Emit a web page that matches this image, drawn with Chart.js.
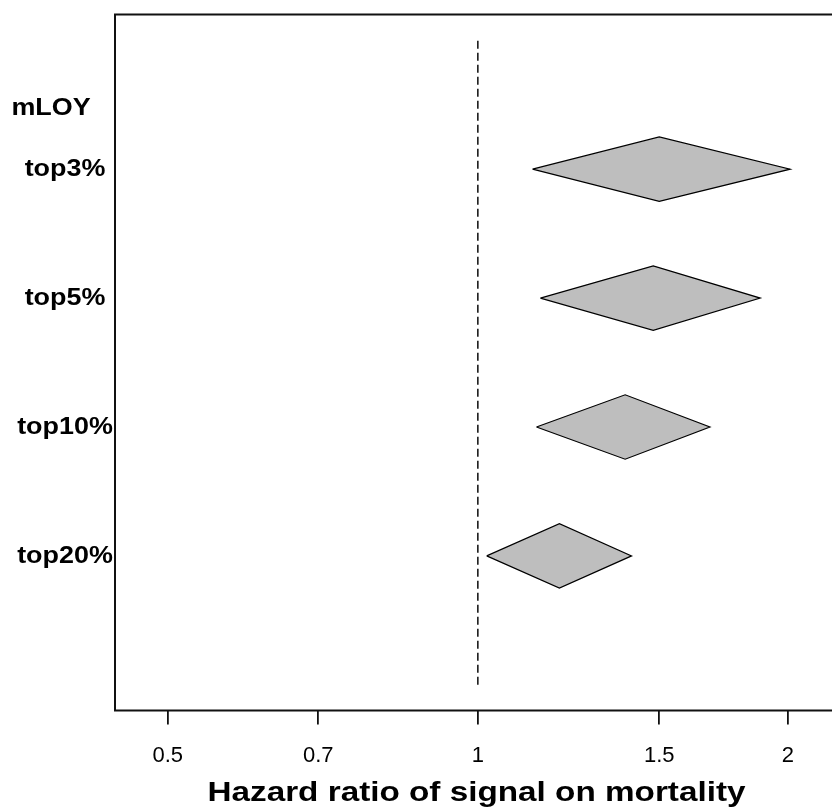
<!DOCTYPE html>
<html>
<head>
<meta charset="utf-8">
<script src="https://cdn.jsdelivr.net/npm/chart.js@4/dist/chart.umd.min.js"></script>
<style>
  html, body { margin: 0; padding: 0; background: #ffffff; }
  canvas { display: block; }
</style>
</head>
<body>
<canvas id="c" width="832" height="812"></canvas>
<script>
// Hazard ratios (lower, estimate, upper) by mLOY signal threshold
const groups = ['top3%', 'top5%', 'top10%', 'top20%'];
const groupRows = [5, 4, 3, 2];
const hrLower = [1.13, 1.15, 1.14, 1.02];
const hrPoint = [1.50, 1.48, 1.39, 1.20];
const hrUpper = [2.01, 1.88, 1.68, 1.41];

const headerLabel = 'mLOY';
const headerRow = 5.5;

// Reference line at HR = 1
const refValue = 1;
const refSpan = [1, 6];

const xTicks = [0.5, 0.7, 1, 1.5, 2];
const xTickLabels = ['0.5', '0.7', '1', '1.5', '2'];
const xTitle = 'Hazard ratio of signal on mortality';

const DIAMOND_HALF = 0.25;
const SANS = '"Liberation Sans", Arial, Helvetica, sans-serif';

// One closed diamond per group: low -> top -> high -> bottom -> low
const diamondSets = groups.map((g, i) => ({
  label: g,
  data: [
    { x: hrLower[i], y: groupRows[i] },
    { x: hrPoint[i], y: groupRows[i] + DIAMOND_HALF },
    { x: hrUpper[i], y: groupRows[i] },
    { x: hrPoint[i], y: groupRows[i] - DIAMOND_HALF },
    { x: hrLower[i], y: groupRows[i] }
  ],
  showLine: true,
  fill: 'shape',
  backgroundColor: '#bebebe',
  borderColor: '#000000',
  borderWidth: 1.2,
  pointRadius: 0,
  pointHoverRadius: 0,
  tension: 0
}));

const refSet = {
  label: 'ref',
  data: [{ x: refValue, y: refSpan[0] }, { x: refValue, y: refSpan[1] }],
  showLine: true,
  fill: false,
  borderColor: '#1a1a1a',
  borderWidth: 1.6,
  borderDash: [8, 4],
  pointRadius: 0,
  pointHoverRadius: 0
};

// Plot frame, row labels and axis title
const framePlugin = {
  id: 'framePlugin',
  afterDraw(chart) {
    const { ctx, chartArea: a, scales: { y } } = chart;
    ctx.save();
    ctx.strokeStyle = '#111111';
    ctx.lineWidth = 2;
    ctx.beginPath();
    ctx.moveTo(a.right + 10, a.top);
    ctx.lineTo(a.left, a.top);
    ctx.lineTo(a.left, a.bottom);
    ctx.lineTo(a.right + 10, a.bottom);
    ctx.stroke();

    const wideText = (text, cx, cy, sx) => {
      ctx.save();
      ctx.translate(cx, cy);
      ctx.scale(sx, 1);
      ctx.fillText(text, 0, 0);
      ctx.restore();
    };

    ctx.fillStyle = '#000000';
    ctx.textAlign = 'center';
    ctx.textBaseline = 'alphabetic';
    ctx.font = 'bold 23px ' + SANS;
    wideText(headerLabel, 51, y.getPixelForValue(headerRow) + 10, 1.17);
    groups.forEach((g, i) => {
      wideText(g, 65, y.getPixelForValue(groupRows[i]) + 7, 1.17);
    });

    ctx.font = 'bold 27.5px ' + SANS;
    wideText(xTitle, 476.5, 801, 1.21);
    ctx.restore();
  }
};

new Chart(document.getElementById('c'), {
  type: 'scatter',
  data: { datasets: [refSet, ...diamondSets] },
  options: {
    responsive: false,
    animation: false,
    events: [],
    layout: { padding: { left: 115, top: 14.5, right: 0, bottom: 25 } },
    plugins: {
      legend: { display: false },
      tooltip: { enabled: false },
      title: { display: false }
    },
    scales: {
      x: {
        type: 'logarithmic',
        min: 0.4444,
        max: 2.207,
        afterBuildTicks: (scale) => {
          scale.ticks = xTicks.map(v => ({ value: v }));
        },
        ticks: {
          autoSkip: false,
          maxRotation: 0,
          padding: 18,
          color: '#000000',
          font: { family: SANS, size: 22 },
          callback: (value) => {
            const i = xTicks.indexOf(value);
            return i >= 0 ? xTickLabels[i] : '';
          }
        },
        grid: {
          display: true,
          drawOnChartArea: false,
          drawTicks: true,
          tickLength: 14,
          color: '#111111',
          lineWidth: 1.8
        },
        border: { display: false },
        title: { display: false }
      },
      y: {
        type: 'linear',
        display: false,
        min: 0.8,
        max: 6.2
      }
    }
  },
  plugins: [framePlugin]
});
</script>
</body>
</html>
